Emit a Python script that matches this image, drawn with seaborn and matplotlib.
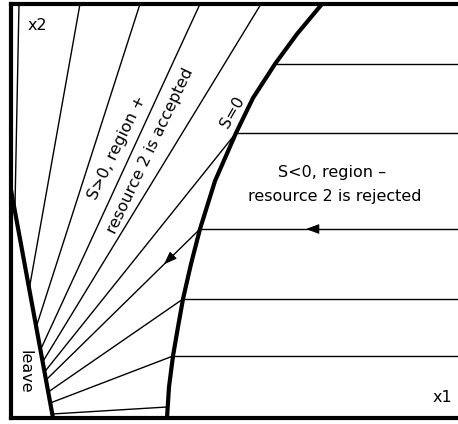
import numpy as np
import pandas as pd
import matplotlib
matplotlib.use("Agg")
import matplotlib.pyplot as plt
import seaborn as sns

# S = 0 switching curve (x1, x2)
s0_x1 = [311, 286, 264, 242, 225, 204, 189, 180, 172, 167, 162, 158, 156]
s0_x2 = [414, 384, 354, 320, 285, 237, 189, 154, 119, 91, 62, 31, 0]

# "leave" boundary
leave_x1 = [0, 42]
leave_x2 = [228, 0]

# trajectories in the S>0 region: start point -> point on the leave boundary
fan_start_x1 = [8, 69, 129, 189, 250, 225, 189, 172, 162, 156]
fan_start_x2 = [414, 414, 414, 414, 414, 285, 189, 119, 62, 11]
fan_end_x1 = [3.9, 18.2, 25.2, 29.4, 31.6, 33.5, 35.0, 37.2, 39.2, 41.2]
fan_end_x2 = [207, 129, 91, 68, 56, 46, 38, 26, 15, 4]

# trajectories in the S<0 region: horizontal, from the right edge to the S=0 curve
flow_x2 = [354, 285, 189, 119, 62]
flow_x1_start = [447, 447, 447, 447, 447]
flow_x1_end = [264, 225, 189, 172, 162]

X1_MAX, X2_MAX = 447, 414

sns.set_theme(style="white")
plt.rcParams["font.family"] = ["DejaVu Sans"]

fig = plt.figure(figsize=(4.58, 4.24), dpi=100)
ax = fig.add_axes([11 / 458, 6 / 424, 447 / 458, 414 / 424])

# thin trajectories as one long table with a segment id
rows = []
for i, (xa, ya, xb, yb) in enumerate(zip(fan_start_x1, fan_start_x2, fan_end_x1, fan_end_x2)):
    rows += [(f"fan{i}", 0, xa, ya), (f"fan{i}", 1, xb, yb)]
for i, (y, xa, xb) in enumerate(zip(flow_x2, flow_x1_start, flow_x1_end)):
    rows += [(f"flow{i}", 0, xa, y), (f"flow{i}", 1, xb, y)]
thin = pd.DataFrame(rows, columns=["seg", "order", "x1", "x2"])

sns.lineplot(data=thin, x="x1", y="x2", units="seg", estimator=None, sort=False,
             color="black", lw=1.0, legend=False, ax=ax)

# thick boundaries
bounds = pd.DataFrame({
    "seg": ["s0"] * len(s0_x1) + ["leave"] * len(leave_x1),
    "x1": s0_x1 + leave_x1,
    "x2": s0_x2 + leave_x2,
})
line_kw = dict(solid_joinstyle="round", solid_capstyle="butt")
sns.lineplot(data=bounds, x="x1", y="x2", units="seg", estimator=None, sort=False,
             color="black", lw=3.0, legend=False, ax=ax, **line_kw)

# direction arrows
def head(x0, y0, x1, y1, t, size=8):
    tx, ty = x0 + t * (x1 - x0), y0 + t * (y1 - y0)
    d = np.hypot(x1 - x0, y1 - y0)
    ux, uy = (x1 - x0) / d, (y1 - y0) / d
    ax.annotate("", xy=(tx, ty), xytext=(tx - size * ux, ty - size * uy),
                arrowprops=dict(arrowstyle="-|>,head_length=0.8,head_width=0.3",
                                color="black", lw=0.8, shrinkA=0, shrinkB=0,
                                mutation_scale=10))

head(flow_x1_start[2], flow_x2[2], flow_x1_end[2], flow_x2[2], 0.589)
head(fan_start_x1[6], fan_start_x2[6], fan_end_x1[6], fan_end_x2[6], 0.234)

# labels
fs = 11.5
tkw = dict(fontsize=fs, color="black")
ax.text(17, 393, "x2", ha="left", va="center", **tkw)
ax.text(441, 20, "x1", ha="right", va="center", **tkw)
ax.text(321, 246, "S<0, region \u2013", ha="center", va="center", **tkw)
ax.text(324, 221, "resource 2 is rejected", ha="center", va="center", **tkw)
ax.text(106, 270, "S>0, region +", ha="center", va="center",
        rotation=64, rotation_mode="anchor", **tkw)
ax.text(139, 267, "resource 2 is accepted", ha="center", va="center",
        rotation=64.5, rotation_mode="anchor", **tkw)
ax.text(222, 306, "S=0", ha="center", va="center",
        rotation=60, rotation_mode="anchor", **tkw)
ax.text(14, 46, "leave", ha="center", va="center",
        rotation=-90, rotation_mode="anchor", **tkw)

ax.set_xlim(0, X1_MAX)
ax.set_ylim(0, X2_MAX)
ax.set_xticks([])
ax.set_yticks([])
ax.set_xlabel("")
ax.set_ylabel("")
for side in ("left", "top", "bottom"):
    ax.spines[side].set_visible(True)
    ax.spines[side].set_color("black")
    ax.spines[side].set_linewidth(3.0)
ax.spines["right"].set_visible(False)
ax.set_facecolor("white")

fig.savefig("out.png", dpi=100, facecolor="white")
